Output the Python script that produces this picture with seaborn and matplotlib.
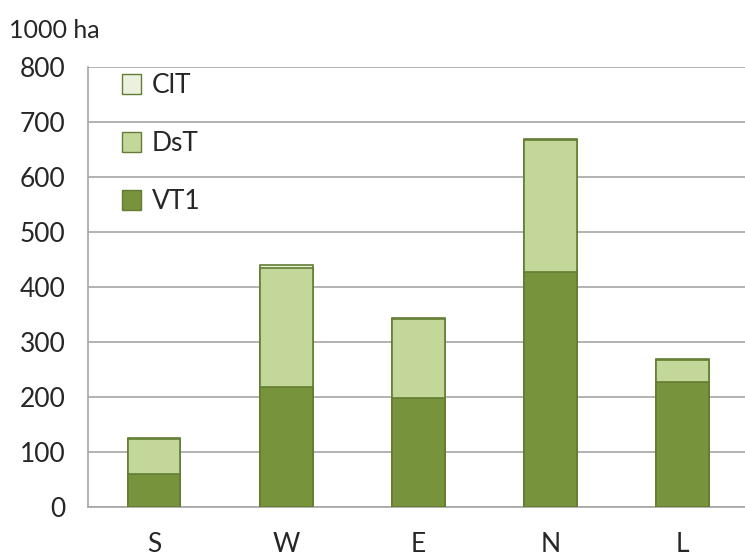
import numpy as np
import pandas as pd
import matplotlib
matplotlib.use("Agg")
import matplotlib.pyplot as plt
import seaborn as sns
from matplotlib.patches import Patch

# --- dados (1000 ha) ---
regions = ["S", "W", "E", "N", "L"]
vt1 = [60, 219, 198, 427, 227]
dst = [64, 215, 143, 240, 41]
clt = [2, 6, 2, 3, 1]

series_names = ["ClT", "DsT", "VT1"]
colors = {"VT1": "#77933c", "DsT": "#c4d79b", "ClT": "#ebf1de"}
edge = "#627d32"

df = pd.DataFrame({"region": regions, "VT1": vt1, "DsT": dst, "ClT": clt})
# empilhamento: desenhar os totais acumulados de trás para frente
df["top_DsT"] = df["VT1"] + df["DsT"]
df["top_ClT"] = df["top_DsT"] + df["ClT"]

sns.set_style("white")
plt.rcParams["font.family"] = ["Lato", "DejaVu Sans"]

fig = plt.figure(figsize=(7.45, 5.59), dpi=100)
ax = fig.add_axes([0.118, 0.093, 0.887, 0.787])

for col, name in [("top_ClT", "ClT"), ("top_DsT", "DsT"), ("VT1", "VT1")]:
    sns.barplot(data=df, x="region", y=col, color=colors[name], width=0.4,
                edgecolor=edge, linewidth=1.2, saturation=1, ax=ax, zorder=3)

ax.set_xlim(-0.5, 4.5)
ax.set_ylim(0, 800)
ax.set_yticks(np.arange(0, 801, 100))
ax.set_xticks(np.arange(-0.5, 4.6, 1), minor=False)
ax.set_xticks(range(5), minor=True)
ax.set_xticklabels([""] * 6)
ax.set_xticklabels(regions, minor=True)
ax.tick_params(axis="x", which="major", length=8, width=1, color="#a6a6a6", direction="out")
ax.tick_params(axis="x", which="minor", length=0, pad=18, labelsize=19)
ax.tick_params(axis="y", length=10, width=1, color="#a6a6a6", labelsize=19, pad=6)
ax.grid(axis="y", color="#a6a6a6", linewidth=1.2, zorder=0)
ax.set_axisbelow(True)
for s in ["top", "right"]:
    ax.spines[s].set_visible(False)
for s in ["left", "bottom"]:
    ax.spines[s].set_color("#a6a6a6")
    ax.spines[s].set_linewidth(1.2)
ax.set_xlabel("")
ax.set_ylabel("")

fig.text(0.012, 0.946, "1000 ha", fontsize=18, va="center", ha="left")

handles = [Patch(facecolor=colors[n], edgecolor=edge, label=n) for n in series_names]
ax.legend(handles=handles, loc="upper left", bbox_to_anchor=(0.015, 1.04),
          frameon=False, fontsize=19, handlelength=0.75, handleheight=0.75,
          labelspacing=1.25, handletextpad=0.4)

fig.savefig("out.png", dpi=100)
